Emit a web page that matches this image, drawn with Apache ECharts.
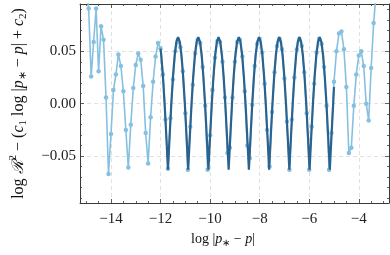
<!DOCTYPE html>
<html>
<head>
<meta charset="utf-8">
<script src="https://cdn.jsdelivr.net/npm/echarts@6/dist/echarts.min.js"></script>
<style>
html,body{margin:0;padding:0;background:#fff;}
#chart{width:390px;height:255px;}
</style>
</head>
<body>
<div id="chart"></div>
<script>
// ---- data ----
const lightX = [-15.1,-15.0,-14.9,-14.8,-14.7,-14.6,-14.5,-14.4,-14.3,-14.2,-14.1,-14.0,
  -13.9,-13.8,-13.7,-13.6,-13.5,-13.4,-13.3,-13.2,-13.1,-13.0,
  -12.9,-12.8,-12.7,-12.6,-12.5,-12.4,-12.3,-12.2,-12.1,-12.0,
  -11.9,-11.8,-11.7,-11.6,-11.5,-11.4,-11.3,-11.2,-11.1,-11.0,
  -10.9,-10.8,-10.7,-10.6,-10.5,-10.4,-10.3,-10.2,-10.1,-10.0,
  -9.9,-9.8,-9.7,-9.6,-9.5,-9.4,-9.3,-9.2,-9.1,-9.0,
  -8.9,-8.8,-8.7,-8.6,-8.5,-8.4,-8.3,-8.2,-8.1,-8.0,
  -7.9,-7.8,-7.7,-7.6,-7.5,-7.4,-7.3,-7.2,-7.1,-7.0,
  -6.9,-6.8,-6.7,-6.6,-6.5,-6.4,-6.3,-6.2,-6.1,-6.0,
  -5.9,-5.8,-5.7,-5.6,-5.5,-5.4,-5.3,-5.2,-5.1,-5.0,
  -4.9,-4.8,-4.7,-4.6,-4.5,-4.4,-4.3,-4.2,-4.1,-4.0,
  -3.9,-3.8,-3.7,-3.6,-3.5,-3.4,-3.3,-3.2];
const lightY = [0.16,0.112,0.091,0.026,0.059,0.091,0.031,0.074,0.061,0.006,-0.067,-0.029,
  0.013,0.028,0.047,0.036,0.012,-0.025,-0.061,-0.020,0.015,0.037,
  0.048,0.042,0.017,-0.028,-0.057,-0.013,0.021,0.045,0.058,0.053,
  0.028,-0.015,-0.062,-0.014,0.023,0.050,0.061,0.054,0.031,-0.009,
  -0.063,-0.022,0.018,0.048,0.061,0.058,0.035,-0.002,-0.063,-0.030,
  0.013,0.044,0.060,0.059,0.040,0.006,-0.047,-0.042,0.006,0.040,
  0.059,0.061,0.045,0.012,-0.040,-0.052,-0.001,0.036,0.057,0.062,
  0.049,0.019,-0.025,-0.060,-0.008,0.030,0.055,0.062,0.052,0.024,
  -0.017,-0.063,-0.015,0.025,0.052,0.062,0.055,0.030,-0.009,-0.063,
  -0.022,0.019,0.049,0.062,0.057,0.035,-0.002,-0.063,-0.028,0.021,
  0.050,0.067,0.069,0.052,0.016,-0.047,-0.042,-0.002,0.028,0.046,
  0.050,0.036,0.000,-0.016,0.034,0.077,0.106,0.14];

const darkX = [-12.000,-11.972,-11.904,-11.836,-11.768,
  -11.700,-11.632,-11.564,-11.496,-11.428,-11.360,-11.292,-11.224,-11.156,-11.088,-11.020,-10.952,
  -10.884,-10.816,-10.748,-10.680,-10.612,-10.544,-10.476,-10.408,-10.340,-10.272,-10.204,-10.136,
  -10.067,-9.999,-9.931,-9.863,-9.795,-9.727,-9.659,-9.591,-9.523,-9.455,-9.387,-9.319,
  -9.251,-9.183,-9.115,-9.047,-8.979,-8.911,-8.843,-8.775,-8.707,-8.639,-8.571,-8.503,
  -8.434,-8.366,-8.298,-8.230,-8.162,-8.094,-8.026,-7.958,-7.890,-7.822,-7.754,-7.686,
  -7.618,-7.550,-7.482,-7.414,-7.346,-7.278,-7.210,-7.142,-7.074,-7.006,-6.938,-6.870,
  -6.801,-6.733,-6.665,-6.597,-6.529,-6.461,-6.393,-6.325,-6.257,-6.189,-6.121,-6.053,
  -5.985,-5.917,-5.849,-5.781,-5.713,-5.645,-5.577,-5.509,-5.441,-5.373,-5.305,-5.237,
  -5.168,-5.100,-5.032,-5.000];
const darkY = [0.0527,0.0466,0.0264,0.0003,-0.0303,
  -0.063,-0.0303,0.0003,0.0264,0.0466,0.0592,0.0635,0.0592,0.0466,0.0264,0.0003,-0.0303,
  -0.063,-0.0303,0.0003,0.0264,0.0466,0.0592,0.0635,0.0592,0.0466,0.0264,0.0003,-0.0303,
  -0.063,-0.0303,0.0003,0.0264,0.0466,0.0592,0.0635,0.0592,0.0466,0.0264,0.0003,-0.0303,
  -0.063,-0.0303,0.0003,0.0264,0.0466,0.0592,0.0635,0.0592,0.0466,0.0264,0.0003,-0.0303,
  -0.063,-0.0303,0.0003,0.0264,0.0466,0.0592,0.0635,0.0592,0.0466,0.0264,0.0003,-0.0303,
  -0.063,-0.0303,0.0003,0.0264,0.0466,0.0592,0.0635,0.0592,0.0466,0.0264,0.0003,-0.0303,
  -0.063,-0.0303,0.0003,0.0264,0.0466,0.0592,0.0635,0.0592,0.0466,0.0264,0.0003,-0.0303,
  -0.063,-0.0303,0.0003,0.0264,0.0466,0.0592,0.0635,0.0592,0.0466,0.0264,0.0003,-0.0303,
  -0.063,-0.0303,0.0003,0.016];

// ---- ticks ----
const xMajor = [-14,-12,-10,-8,-6,-4];
const xTickLabels = ['−14','−12','−10','−8','−6','−4'];
const xMinor = [-15,-14.5,-13.5,-13,-12.5,-11.5,-11,-10.5,-9.5,-9,-8.5,-7.5,-7,-6.5,-5.5,-5,-4.5,-3.5,-3];
const yMajor = [-0.05,0,0.05];
const yTickLabels = ['−0.05','0.00','0.05'];
const yMinor = [-0.09,-0.08,-0.07,-0.06,-0.04,-0.03,-0.02,-0.01,0.01,0.02,0.03,0.04,0.06,0.07,0.08,0.09];

const X_MIN = -15.25, X_MAX = -2.78, Y_MIN = -0.0948, Y_MAX = 0.0952;
const FONT = 'Liberation Serif';
const FRAME = '#3a3a3a';

function pick(vals, labels, v){
  let best = 0;
  for (let i=1;i<vals.length;i++) if (Math.abs(vals[i]-v) < Math.abs(vals[best]-v)) best = i;
  return labels[best];
}

function mkAxis(pos, vals, len, opts){
  const o = opts || {};
  const isX = (pos === 'bottom' || pos === 'top');
  const ax = {
    type: 'value', position: pos,
    min: isX ? X_MIN : Y_MIN, max: isX ? X_MAX : Y_MAX,
    axisLine: {show: !!o.line, onZero: false, lineStyle: {color: FRAME, width: 1}},
    axisTick: {show: true, inside: true, length: len, customValues: vals, lineStyle: {color: FRAME, width: 0.8}},
    axisLabel: {show: false},
    splitLine: {show: false},
    minorTick: {show: false}
  };
  if (o.labels) {
    ax.axisLabel = {
      show: true, customValues: vals, margin: isX ? 9 : 4,
      fontFamily: FONT, fontSize: 15, color: '#222',
      formatter: v => pick(vals, o.labels, v)
    };
  }
  if (o.split) {
    ax.splitLine = {show: true, lineStyle: {color: '#d9d9d9', width: 0.8, type: [4, 3]}};
  }
  if (o.name) {
    ax.name = o.name.text;
    ax.nameLocation = 'middle';
    ax.nameGap = o.name.gap;
    if (o.name.rotate !== undefined) ax.nameRotate = o.name.rotate;
    ax.nameTextStyle = o.name.style;
  }
  return ax;
}

function mkRich(fs){
  const lh = Math.round(fs * 1.3);
  const sfs = Math.round(fs * 0.7);
  return {
    t: {fontFamily: FONT, fontSize: fs, color: '#111', lineHeight: lh},
    it: {fontFamily: FONT, fontStyle: 'italic', fontSize: fs, color: '#111', lineHeight: lh},
    cal: {fontFamily: 'DejaVu Serif', fontStyle: 'italic', fontSize: fs, color: '#111', lineHeight: lh},
    sub: {fontFamily: FONT, fontSize: sfs, color: '#111', verticalAlign: 'bottom', lineHeight: lh},
    sup: {fontFamily: FONT, fontSize: sfs, color: '#111', verticalAlign: 'top', lineHeight: lh}
  };
}

const xName = '{t|log |}{it|p}{sub|∗}{t| − }{it|p}{t||}';
const yName = '{t|log }{cal|ℛ}{sup|2}{t| − (}{it|c}{sub|1}{t| log |}{it|p}{sub|∗}{t| − }{it|p}{t|| + }{it|c}{sub|2}{t|)}';

const option = {
  animation: false,
  backgroundColor: '#fff',
  grid: {left: 69, right: 1, top: 4, bottom: 52, containLabel: false},
  xAxis: [
    mkAxis('bottom', xMajor, 4, {line: true, labels: xTickLabels, split: true,
      name: {text: xName, gap: 25, style: {rich: mkRich(14), padding: [0, 23, 0, 0]}}}),
    mkAxis('bottom', xMinor, 2),
    mkAxis('top', xMajor, 4, {line: true}),
    mkAxis('top', xMinor, 2)
  ],
  yAxis: [
    mkAxis('left', yMajor, 4, {line: true, labels: yTickLabels, split: true,
      name: {text: yName, gap: 51, rotate: 90, style: {rich: mkRich(16)}}}),
    mkAxis('left', yMinor, 2),
    mkAxis('right', yMajor, 4, {line: true}),
    mkAxis('right', yMinor, 2)
  ],
  series: [
    {
      type: 'line', xAxisIndex: 0, yAxisIndex: 0, z: 2, clip: true,
      data: lightX.map((x, i) => [x, lightY[i]]),
      symbol: 'circle', symbolSize: 4.5, showSymbol: true,
      lineStyle: {color: '#86c0e0', width: 1.6},
      itemStyle: {color: '#86c0e0'}
    },
    {
      type: 'line', xAxisIndex: 0, yAxisIndex: 0, z: 3, clip: true,
      data: darkX.map((x, i) => [x, darkY[i]]),
      showSymbol: false, symbol: 'none',
      lineStyle: {color: '#2b6390', width: 2.2},
      itemStyle: {color: '#2b6390'}
    }
  ]
};

const chart = echarts.init(document.getElementById('chart'), null, {renderer: 'canvas'});
chart.setOption(option);
</script>
</body>
</html>
